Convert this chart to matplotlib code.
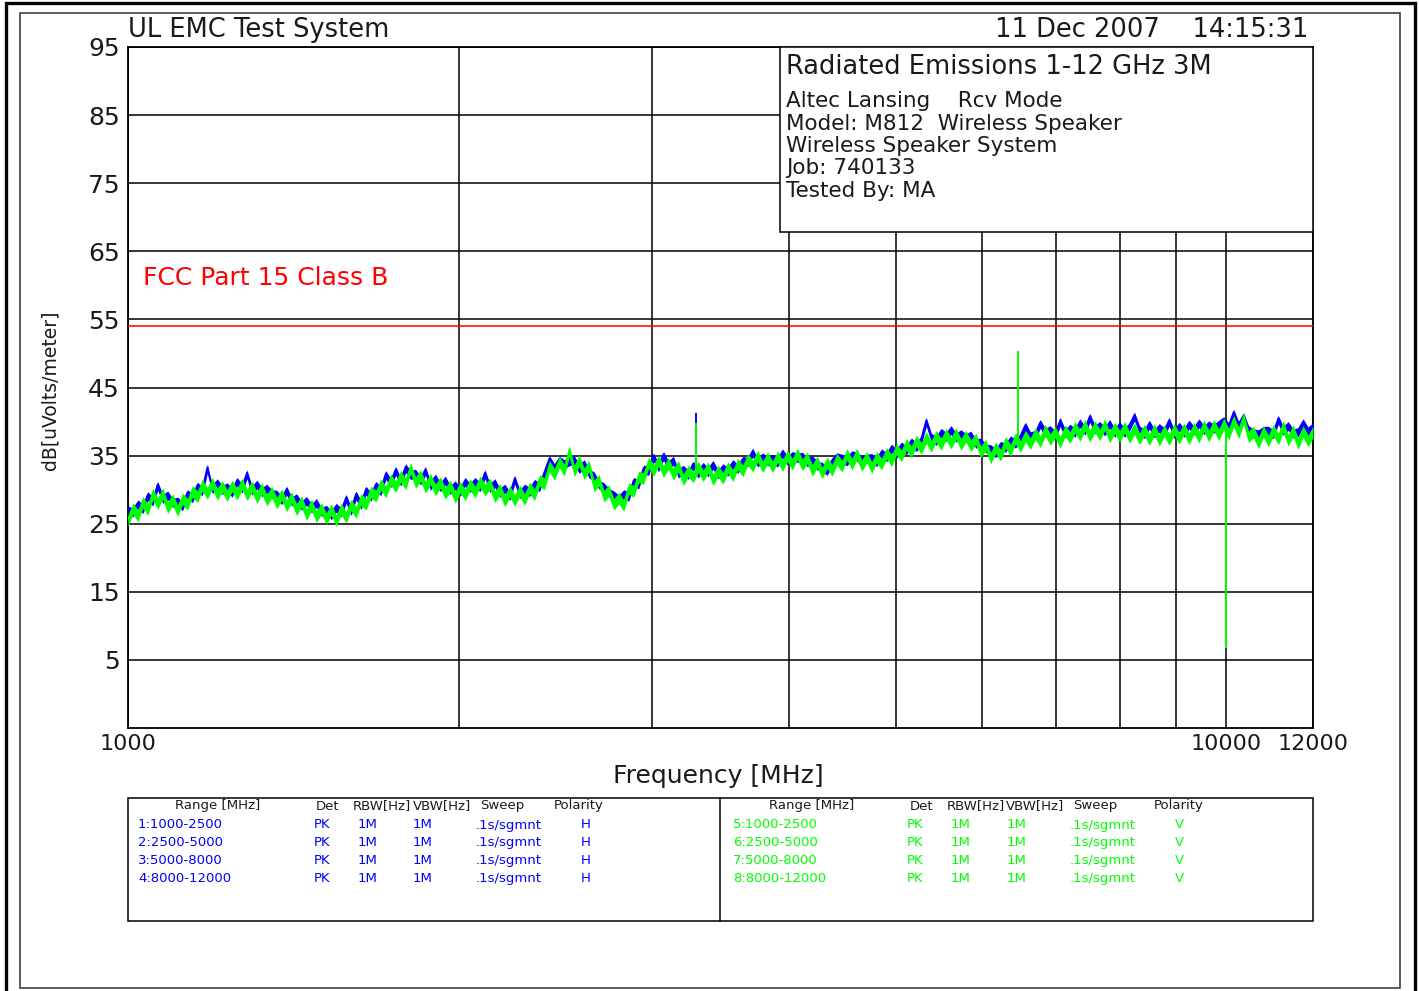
import numpy as np
import matplotlib
matplotlib.use("Agg")
import matplotlib.pyplot as plt
from matplotlib.patches import Rectangle

# --- data -------------------------------------------------------------------
# 240 sweep points, log-spaced from 1 GHz to 12 GHz
n_pts = 240
f_start, f_stop = 1000, 12000

# vertical polarity trace (green), dBuV/m
green_db = [
    25.6, 27.4, 26.3, 28.3, 27.2, 29.5, 28.1, 29.6, 27.5, 28.7,
    27.1, 28.8, 28.0, 29.9, 29.1, 30.8, 29.6, 31.1, 29.5, 30.6,
    29.3, 30.7, 29.5, 31.0, 29.4, 30.6, 29.0, 30.3, 28.6, 29.8,
    28.2, 29.4, 27.8, 29.0, 27.2, 28.4, 26.5, 27.9, 26.2, 27.4,
    25.9, 27.2, 25.6, 27.3, 26.1, 27.9, 26.8, 28.7, 28.0, 29.8,
    29.2, 30.9, 29.8, 31.6, 30.6, 32.1, 31.0, 33.3, 31.2, 32.2,
    30.5, 31.7, 30.1, 31.2, 29.6, 30.7, 29.0, 30.5, 29.4, 30.9,
    29.8, 31.3, 30.1, 31.0, 29.1, 30.2, 28.5, 29.9, 28.6, 30.0,
    28.7, 30.4, 29.4, 31.5, 31.0, 33.6, 32.4, 34.2, 33.0, 35.8,
    32.9, 34.4, 32.5, 33.6, 30.7, 31.5, 29.2, 30.0, 28.0, 28.9,
    27.8, 30.3, 29.9, 32.0, 31.8, 34.1, 33.0, 34.4, 32.8, 34.0,
    32.4, 33.6, 31.6, 32.9, 32.0, 33.5, 32.2, 33.4, 31.6, 32.9,
    31.8, 33.4, 32.2, 33.9, 32.9, 34.6, 33.6, 35.1, 33.5, 34.8,
    33.5, 35.0, 33.7, 35.1, 33.9, 35.4, 33.8, 34.8, 33.0, 34.2,
    32.6, 34.1, 33.0, 34.6, 33.6, 35.3, 33.9, 35.4, 33.7, 34.9,
    33.4, 34.9, 33.9, 35.5, 34.4, 36.1, 35.1, 36.8, 35.7, 37.3,
    36.2, 37.8, 36.5, 38.0, 36.8, 38.3, 37.0, 38.4, 36.8, 38.0,
    36.6, 37.6, 35.7, 36.7, 34.8, 36.3, 35.2, 37.1, 35.9, 37.7,
    36.5, 38.0, 36.9, 38.4, 37.2, 38.9, 37.5, 38.6, 37.1, 38.8,
    37.8, 39.3, 38.1, 39.6, 38.0, 39.4, 38.2, 39.7, 37.9, 39.2,
    38.0, 39.3, 37.8, 39.1, 37.6, 38.9, 37.5, 39.0, 37.4, 38.8,
    37.5, 39.0, 37.7, 39.1, 37.6, 39.2, 37.9, 39.5, 38.0, 39.6,
    38.2, 39.8, 38.3, 40.2, 38.5, 40.6, 37.9, 38.6, 37.0, 38.7,
    37.3, 38.9, 37.6, 39.4, 37.4, 38.8, 36.9, 38.7, 37.3, 38.6]

# horizontal polarity trace (blue), dBuV/m
blue_db = [
    27.2, 26.9, 28.1, 27.4, 29.3, 28.5, 30.8, 28.9, 29.4, 28.3,
    28.5, 27.8, 29.6, 29.0, 30.7, 30.0, 33.3, 30.3, 31.2, 30.2,
    30.6, 29.8, 31.4, 30.4, 32.5, 30.1, 31.0, 29.9, 30.4, 29.6,
    29.5, 28.7, 30.1, 28.5, 29.0, 27.9, 28.6, 27.5, 28.3, 27.0,
    27.3, 26.5, 27.6, 26.9, 28.9, 27.1, 29.4, 28.0, 30.1, 29.2,
    30.8, 30.0, 32.4, 31.2, 33.0, 31.4, 33.4, 32.4, 32.6, 31.6,
    33.0, 30.8, 31.9, 30.6, 31.6, 30.2, 30.9, 29.9, 31.4, 30.5,
    31.4, 30.6, 32.5, 30.5, 31.2, 29.8, 30.4, 29.3, 31.7, 29.6,
    30.4, 29.9, 31.1, 30.6, 32.6, 34.6, 33.4, 34.5, 34.0, 34.4,
    34.6, 33.3, 34.0, 32.6, 32.2, 31.0, 30.6, 29.8, 29.4, 28.8,
    29.6, 29.2, 31.4, 31.0, 33.2, 33.0, 35.0, 33.5, 35.2, 33.8,
    34.5, 32.6, 33.2, 32.4, 33.8, 32.6, 33.6, 32.8, 33.9, 32.5,
    33.4, 32.9, 34.0, 33.3, 34.5, 34.3, 35.7, 34.2, 35.0, 34.4,
    34.8, 34.2, 35.6, 34.5, 35.2, 34.9, 35.1, 34.3, 34.6, 33.8,
    33.6, 33.0, 34.3, 35.0, 34.8, 34.4, 35.3, 35.1, 34.6, 34.8,
    34.9, 34.3, 35.6, 35.0, 36.3, 35.5, 36.6, 36.0, 37.2, 36.5,
    37.5, 40.2, 37.9, 37.4, 38.6, 38.0, 39.0, 37.9, 38.4, 37.8,
    38.2, 37.0, 37.2, 36.3, 36.2, 35.6, 36.7, 36.4, 37.5, 37.0,
    37.9, 39.5, 38.1, 38.3, 39.9, 38.6, 39.0, 38.2, 40.2, 38.5,
    39.2, 38.6, 40.0, 38.9, 40.8, 39.1, 39.6, 38.8, 39.9, 38.6,
    39.6, 38.6, 39.5, 41.0, 39.0, 38.4, 39.8, 38.5, 39.3, 38.7,
    40.2, 38.4, 39.5, 38.6, 39.8, 38.9, 40.0, 39.0, 39.7, 39.2,
    39.8, 40.3, 39.4, 41.4, 39.6, 40.9, 39.0, 38.5, 38.4, 38.9,
    38.9, 38.4, 40.5, 38.9, 39.6, 38.5, 38.7, 40.0, 38.8, 39.4]

# isolated signals (MHz, from dB, to dB)
big_blue_f, big_blue_lo, big_blue_hi = [3291], [33.0], [41.3]
big_green_f = [3291, 6465, 10000]
big_green_lo = [33.0, 37.0, 6.8]
big_green_hi = [39.8, 50.3, 38.8]

limit_f = [1000, 12000]
limit_db = [54, 54]

grid_f = [2000, 3000, 4000, 5000, 6000, 7000, 8000, 9000]
xtick_f = [1000, 10000, 12000]
ytick_db = [5, 15, 25, 35, 45, 55, 65, 75, 85, 95]

header = ["Range [MHz]", "Det", "RBW[Hz]", "VBW[Hz]", "Sweep", "Polarity"]
rows_h = [["1:1000-2500", "PK", "1M", "1M", ".1s/sgmnt", "H"],
          ["2:2500-5000", "PK", "1M", "1M", ".1s/sgmnt", "H"],
          ["3:5000-8000", "PK", "1M", "1M", ".1s/sgmnt", "H"],
          ["4:8000-12000", "PK", "1M", "1M", ".1s/sgmnt", "H"]]
rows_v = [["5:1000-2500", "PK", "1M", "1M", ".1s/sgmnt", "V"],
          ["6:2500-5000", "PK", "1M", "1M", ".1s/sgmnt", "V"],
          ["7:5000-8000", "PK", "1M", "1M", ".1s/sgmnt", "V"],
          ["8:8000-12000", "PK", "1M", "1M", ".1s/sgmnt", "V"]]

info_lines = ["Altec Lansing    Rcv Mode",
              "Model: M812  Wireless Speaker",
              "Wireless Speaker System",
              "Job: 740133",
              "Tested By: MA"]

BLUE = "#0000ff"
GREEN = "#00ff00"
RED = "#ff0000"
INK = "#1a1a1a"
W, H = 1419, 991


def fx(x):
    return x / W


def fy(y):
    return 1 - y / H


freqs = np.geomspace(f_start, f_stop, n_pts)
green = np.array(green_db)
blue = np.array(blue_db)

fig = plt.figure(figsize=(W / 100, H / 100), dpi=100)
fig.patch.set_facecolor("white")

# page frames
fig.patches.append(Rectangle((fx(6), fy(1000)), fx(1415) - fx(6), fy(3) - fy(1000),
                             transform=fig.transFigure, fill=False, lw=2.4,
                             ec="black", zorder=0))
fig.patches.append(Rectangle((fx(20), fy(988)), fx(1400) - fx(20), fy(13) - fy(988),
                             transform=fig.transFigure, fill=False, lw=1.2,
                             ec="#404040", zorder=0))

ax = fig.add_axes([fx(128), fy(728), fx(1313) - fx(128), fy(47) - fy(728)])
ax.set_xscale("log")
ax.set_xlim(f_start, f_stop)
ax.set_ylim(-5, 95)

ax.set_xticks(xtick_f)
ax.set_xticklabels([str(v) for v in xtick_f])
ax.set_xticks(grid_f, minor=True)
ax.xaxis.set_minor_formatter(plt.NullFormatter())
ax.set_yticks(ytick_db)
ax.tick_params(which="both", length=0)
ax.tick_params(axis="y", labelsize=18, pad=6, colors=INK)
ax.tick_params(axis="x", labelsize=16, pad=4, colors=INK)
ax.grid(which="both", color="black", lw=1.1)
ax.set_axisbelow(True)
for s in ax.spines.values():
    s.set_linewidth(1.3)

# traces drawn as a peak-detector band, blue (H) behind green (V)
ax.fill_between(freqs, blue - 0.9, blue + 0.4, color=BLUE, lw=0, zorder=3)
ax.plot(freqs, blue, color=BLUE, lw=1.2, zorder=3)
ax.vlines(big_blue_f, big_blue_lo, big_blue_hi, color=BLUE, lw=1.4, zorder=3)
ax.fill_between(freqs, green - 1.0, green + 0.7, color=GREEN, lw=0, zorder=4)
ax.plot(freqs, green, color=GREEN, lw=1.2, zorder=4)
ax.vlines(big_green_f, big_green_lo, big_green_hi, color=GREEN, lw=1.4, zorder=4)

ax.plot(limit_f, limit_db, color=RED, lw=1.1, zorder=5)
ax.text(0.0127, 0.661, "FCC Part 15 Class B", transform=ax.transAxes,
        color=RED, fontsize=18, va="center", ha="left")

# info box sitting on top of the grid
x0 = (780 - 128) / 1185
y0 = (728 - 232) / 681
ax.add_patch(Rectangle((x0, y0), 1 - x0, 1 - y0, transform=ax.transAxes,
                       fc="white", ec="black", lw=1.1, zorder=6))
fig.text(fx(786), fy(67), "Radiated Emissions 1-12 GHz 3M", fontsize=18.5,
         va="center", ha="left", color=INK, zorder=7)
for i, line in enumerate(info_lines):
    fig.text(fx(786), fy(101 + 22.5 * i), line, fontsize=15.5, va="center",
             ha="left", color=INK, zorder=7)

fig.text(fx(128), fy(30), "UL EMC Test System", fontsize=18.5, va="center",
         ha="left", color=INK)
fig.text(fx(1308), fy(30), "11 Dec 2007    14:15:31", fontsize=18.5,
         va="center", ha="right", color=INK)
fig.text(fx(718), fy(776), "Frequency [MHz]", fontsize=18, va="center",
         ha="center", color=INK)
fig.text(fx(50), fy(390), "dB[uVolts/meter]", fontsize=13.5, va="center",
         ha="center", rotation=90, color=INK)

# settings table
fig.patches.append(Rectangle((fx(128), fy(921)), fx(1313) - fx(128),
                             fy(798) - fy(921), transform=fig.transFigure,
                             fill=False, ec="black", lw=1.1))
fig.lines.append(plt.Line2D([fx(720), fx(720)], [fy(798), fy(921)],
                            transform=fig.transFigure, color="black", lw=1.1))

head_x_l = [175, 316, 353, 413, 480, 554]
row_x_l = [138, 314, 358, 413, 476, 581]
head_x_r = [769, 910, 947, 1006, 1073, 1154]
row_x_r = [733, 907, 951, 1007, 1070, 1175]
for hx, txt in zip(head_x_l, header):
    fig.text(fx(hx), fy(806), txt, fontsize=9.5, va="center", ha="left", color=INK)
for hx, txt in zip(head_x_r, header):
    fig.text(fx(hx), fy(806), txt, fontsize=9.5, va="center", ha="left", color=INK)
for r, (rh, rv) in enumerate(zip(rows_h, rows_v)):
    yy = fy(825 + 17.7 * r)
    for cx, txt in zip(row_x_l, rh):
        fig.text(fx(cx), yy, txt, fontsize=9.5, va="center", ha="left", color=BLUE)
    for cx, txt in zip(row_x_r, rv):
        fig.text(fx(cx), yy, txt, fontsize=9.5, va="center", ha="left", color=GREEN)

fig.savefig("out.png", dpi=100)
